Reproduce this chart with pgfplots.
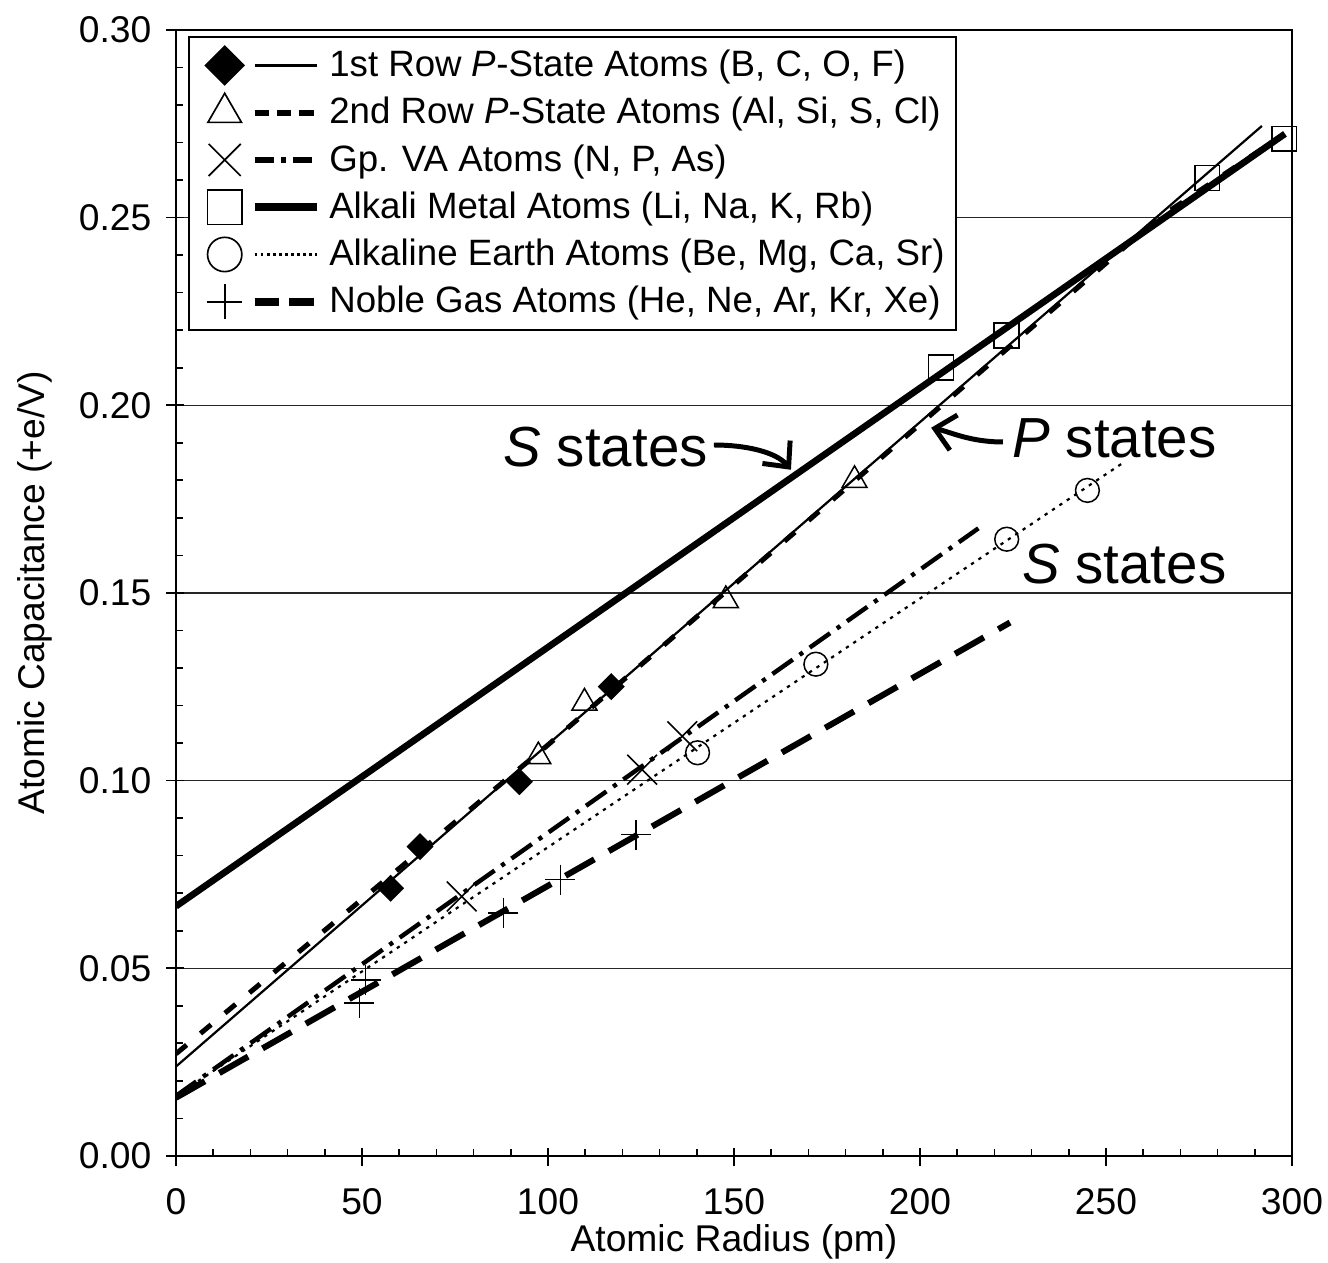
\documentclass[border=0pt]{standalone}
\usepackage{fontspec}
\setmainfont{Liberation Sans}
\usepackage{pgfplots}
\pgfplotsset{compat=1.18}
\usetikzlibrary{arrows.meta}

% legend image: mark on the left, line to the right
\pgfplotsset{
  leg/.style 2 args={legend image code/.code={
    \path (-10.4bp,0bp) (35.4bp,0bp);
    \draw[black,solid,#2] (10.8bp,0bp) -- (33.2bp,0bp);
    \draw[black,solid,line width=0.6bp,#1] plot coordinates {(0bp,0bp)};}},
}

\begin{document}
\begin{tikzpicture}
\begin{axis}[name=ax, scale only axis, width=403.3bp, height=406.9bp,
  xmin=0, xmax=300, ymin=0, ymax=0.30,
  xtick={0,50,100,150,200,250,300}, ytick={0,0.05,0.10,0.15,0.20,0.25,0.30},
  minor x tick num=4, minor y tick num=4,
  xtick pos=left, ytick pos=left,
  tick align=inside, major tick length=6.5bp, minor tick length=2.5bp,
  every major x tick/.append style={yshift=-3.6bp},
  every major y tick/.append style={xshift=-3.6bp},
  tick style={black, line width=0.6bp},
  axis line style={line width=0.8bp},
  ymajorgrids, grid style={black!85, line width=0.5bp},
  scaled y ticks=false,
  /pgf/number format/assume math mode=true,
  tick label style={font=\fontsize{13.5}{16}\selectfont},
  yticklabel style={/pgf/number format/fixed, /pgf/number format/fixed zerofill,
    /pgf/number format/precision=2, inner sep=0pt, xshift=-8.7bp},
  xticklabel style={inner sep=0pt, yshift=-11.6bp},
  xlabel={Atomic Radius (pm)}, ylabel={Atomic Capacitance (+e/V)},
  label style={font=\fontsize{13.5}{16}\selectfont, inner sep=0pt},
  xlabel style={at={(axis description cs:0.5,-0.0605)}, anchor=north},
  ylabel style={at={(axis description cs:-0.1265,0.5)}, anchor=center},
  legend style={at={(axis description cs:0,1)}, anchor=north west,
    xshift=4.4bp, yshift=-2.2bp, draw=black, line width=0.8bp, fill=white,
    font=\fontsize{13.3}{15}\selectfont, inner xsep=2bp, inner ysep=2.7bp,
    row sep=2bp},
  legend cell align=left,
]
% fitted lines
\addplot[forget plot, black, line width=0.8bp] coordinates {(0,0.0238) (291.9,0.2744)};
\addplot[forget plot, black, line width=1.8bp, dash pattern=on 5bp off 6.5bp] coordinates {(0,0.0272) (100,0.1095) (182,0.1795) (263.6,0.2495) (297.6,0.2720)};
\addplot[forget plot, black, line width=1.6bp, dash pattern=on 9bp off 3bp on 1.5bp off 3bp] coordinates {(0,0.0160) (215.7,0.1672)};
\addplot[forget plot, black, line width=2.4bp] coordinates {(0,0.0665) (298.1,0.2723)};
\addplot[forget plot, black, line width=0.8bp, dash pattern=on 1.2bp off 2bp] coordinates {(0,0.0160) (254.2,0.1844)};
\addplot[forget plot, black, line width=2.2bp, dash pattern=on 12bp off 6bp] coordinates {(0,0.0155) (224.2,0.1421)};
% data points
\addplot[forget plot, only marks, black, mark=square*, mark options={rotate=45}, mark size=3.2bp, line width=0.5bp] coordinates {(57.7,0.0713) (65.6,0.0824) (92.3,0.0997) (117.0,0.1250)};
\addplot[forget plot, only marks, black, mark=triangle, mark size=5.2bp, line width=0.55bp] coordinates {(97.4,0.1064) (109.8,0.1207) (147.8,0.1480) (182.4,0.1800)};
\addplot[forget plot, only marks, black, mark=x, mark size=7.6bp, line width=0.55bp] coordinates {(76.8,0.0691) (125.3,0.1029) (136.1,0.1118)};
\addplot[forget plot, only marks, black, mark=square, mark size=4.5bp, line width=0.55bp] coordinates {(205.6,0.2100) (223.3,0.2186) (277.2,0.2605) (297.9,0.2710)};
\addplot[forget plot, only marks, black, mark=o, mark size=4.3bp, line width=0.55bp] coordinates {(140.2,0.1074) (172.0,0.1310) (223.3,0.1643) (245.0,0.1773)};
\addplot[forget plot, only marks, black, mark=+, mark size=5.4bp, line width=0.55bp] coordinates {(49.3,0.0408) (51.0,0.0469) (88.0,0.0647) (103.3,0.0736) (123.7,0.0856)};
% legend
\addlegendimage{leg={mark=square*,mark options={rotate=45},mark size=4.9bp}{line width=0.8bp}}
\addlegendentry{1st Row \textit{P}-State Atoms (B, C, O, F)}
\addlegendimage{leg={mark=triangle,mark size=7bp}{line width=2.2bp, dash pattern=on 5.2bp off 2.9bp}}
\addlegendentry{2nd Row \textit{P}-State Atoms (Al, Si, S, Cl)}
\addlegendimage{leg={mark=x,mark size=8.2bp}{line width=2bp, dash pattern=on 7bp off 2.5bp on 1.8bp off 2.5bp}}
\addlegendentry{Gp. VA Atoms (N, P, As)}
\addlegendimage{leg={mark=square,mark size=6.2bp}{line width=3bp}}
\addlegendentry{Alkali Metal Atoms (Li, Na, K, Rb)}
\addlegendimage{leg={mark=o,mark size=6.2bp}{line width=0.9bp, dash pattern=on 1bp off 1.2bp}}
\addlegendentry{Alkaline Earth Atoms (Be, Mg, Ca, Sr)}
\addlegendimage{leg={mark=+,mark size=6.3bp}{line width=3bp, dash pattern=on 9bp off 3.6bp}}
\addlegendentry{Noble Gas Atoms (He, Ne, Ar, Kr, Xe)}
% annotations
\node[anchor=west, inner sep=0pt, font=\fontsize{20.5}{24}\selectfont] at (axis cs:87.9,0.1889) {\textit{S} states};
\node[anchor=west, inner sep=0pt, font=\fontsize{20.5}{24}\selectfont] at (axis cs:224.7,0.1913) {\textit{P} states};
\node[anchor=west, inner sep=0pt, font=\fontsize{20.5}{24}\selectfont] at (axis cs:227.3,0.1577) {\textit{S} states};
\draw[line width=1.8bp, -{Straight Barb[length=7bp,width=13bp]}] (axis cs:144.6,0.1894) .. controls (axis cs:153,0.1894) and (axis cs:161.3,0.1876) .. (axis cs:165.3,0.1828);
\draw[line width=1.8bp, -{Straight Barb[length=7bp,width=13bp]}] (axis cs:222.3,0.1902) .. controls (axis cs:213.4,0.1902) and (axis cs:208.1,0.1929) .. (axis cs:203,0.1940);
\coordinate (bl) at (rel axis cs:0,0);
\coordinate (tr) at (rel axis cs:1,1);
\end{axis}
\pgfresetboundingbox
\path ([xshift=-63.6bp,yshift=-38.7bp]bl) rectangle ([xshift=13bp,yshift=10.8bp]tr);
\end{tikzpicture}
\end{document}
